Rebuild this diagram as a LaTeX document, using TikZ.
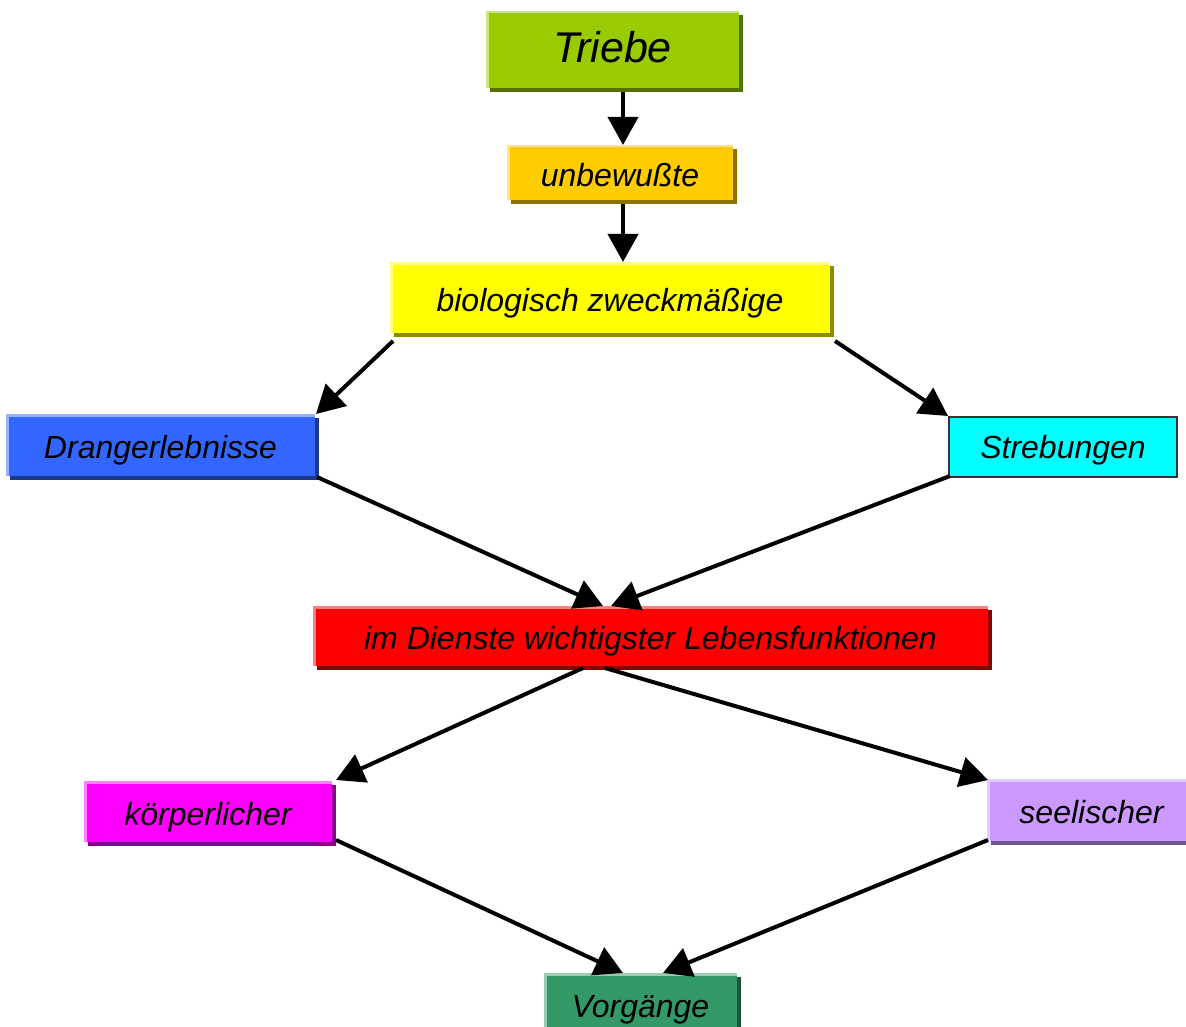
\documentclass[tikz,border=0pt]{standalone}
\usepackage{fontspec}
\setmainfont{Liberation Sans}
\usetikzlibrary{arrows.meta,calc}
\definecolor{cTriebe}{HTML}{99CC00}
\definecolor{cUnbew}{HTML}{FFCC00}
\definecolor{cBio}{HTML}{FFFF00}
\definecolor{cDrang}{HTML}{3366FF}
\definecolor{cStreb}{HTML}{00FFFF}
\definecolor{cDienst}{HTML}{FF0000}
\definecolor{cKoerp}{HTML}{FF00FF}
\definecolor{cSeel}{HTML}{CC99FF}
\definecolor{cVorg}{HTML}{339966}
\newcommand\bevelbox[8]{% name, x1, y1, x2, y2, colour, node options, text
  \fill[#6!55!black] (#2+4,#3+4) rectangle (#4+4,#5+4);
  \node[boxbase, fill=#6, minimum width={(#4-#2)*1pt}, minimum height={(#5-#3)*1pt}, #7]
        (#1) at ({(#2+#4)/2},{(#3+#5)/2}) {#8};
  \draw[#6!50!white, line width=2.5pt] (#2+1.25,#5) -- (#2+1.25,#3+1.25) -- (#4,#3+1.25);
}
\tikzset{
  boxbase/.style={rectangle, inner sep=0pt, outer sep=0pt, text=black,
    font=\fontsize{32}{32}\selectfont\itshape, text height=27.5pt, text depth=0pt},
  big/.style={font=\fontsize{43}{43}\selectfont\itshape, text height=27pt},
  arr/.style={line width=4pt, -{Triangle[length=28pt,width=30pt]}},
}
\begin{document}
\begin{tikzpicture}[x=1pt,y=-1pt]
\useasboundingbox (0,0) rectangle (1186,1027);
\clip (0,0) rectangle (1186,1027);
\bevelbox{triebe}{486}{11}{739}{88}{cTriebe}{big}{Triebe}
\bevelbox{unbew}{507}{145}{733}{200}{cUnbew}{}{unbewußte}
\bevelbox{bio}{390}{262}{830}{333}{cBio}{}{biologisch zweckmäßige}
\bevelbox{drang}{6}{414}{315}{476}{cDrang}{}{Drangerlebnisse}
\node[boxbase, fill=cStreb, draw=black!80, line width=1.5pt, minimum width=228pt, minimum height=60pt,
      text height=22pt] (streb) at (1063,447) {Strebungen};
\bevelbox{dienst}{313}{606}{988}{666}{cDienst}{}{im Dienste wichtigster Lebensfunktionen}
\bevelbox{koerp}{84}{781}{332}{842}{cKoerp}{}{körperlicher}
\bevelbox{seel}{987}{779}{1196}{841}{cSeel}{}{seelischer}
\bevelbox{vorg}{544}{973}{737}{1035}{cVorg}{}{Vorgänge}

\draw[arr] ($(triebe.south)+(10.5,4)$) -- ($(unbew.north)+(3,0)$);
\draw[arr] ($(unbew.south)+(3,4)$) -- ($(bio.north)+(13,0)$);
\draw[arr] ($(bio.south west)+(3,8)$) -- ($(drang.north east)+(1,0)$);
\draw[arr] ($(bio.south east)+(5,8)$) -- ($(streb.north west)+(-1,-1)$);
\draw[arr] ($(drang.south east)+(2,1)$) -- ($(dienst.north)+(-47.5,0)$);
\draw[arr] ($(streb.south west)+(1,-1)$) -- ($(dienst.north)+(-39.5,0)$);
\draw[arr] ($(dienst.south)+(-67.5,2)$) -- ($(koerp.north east)+(4,-1)$);
\draw[arr] ($(dienst.south)+(-45.5,2)$) -- ($(seel.north west)+(1,1)$);
\draw[arr] ($(koerp.south east)+(4,-2)$) -- ($(vorg.north)+(-17.5,0)$);
\draw[arr] ($(seel.south west)+(1,-1)$) -- ($(vorg.north)+(22.5,0)$);
\end{tikzpicture}
\end{document}
